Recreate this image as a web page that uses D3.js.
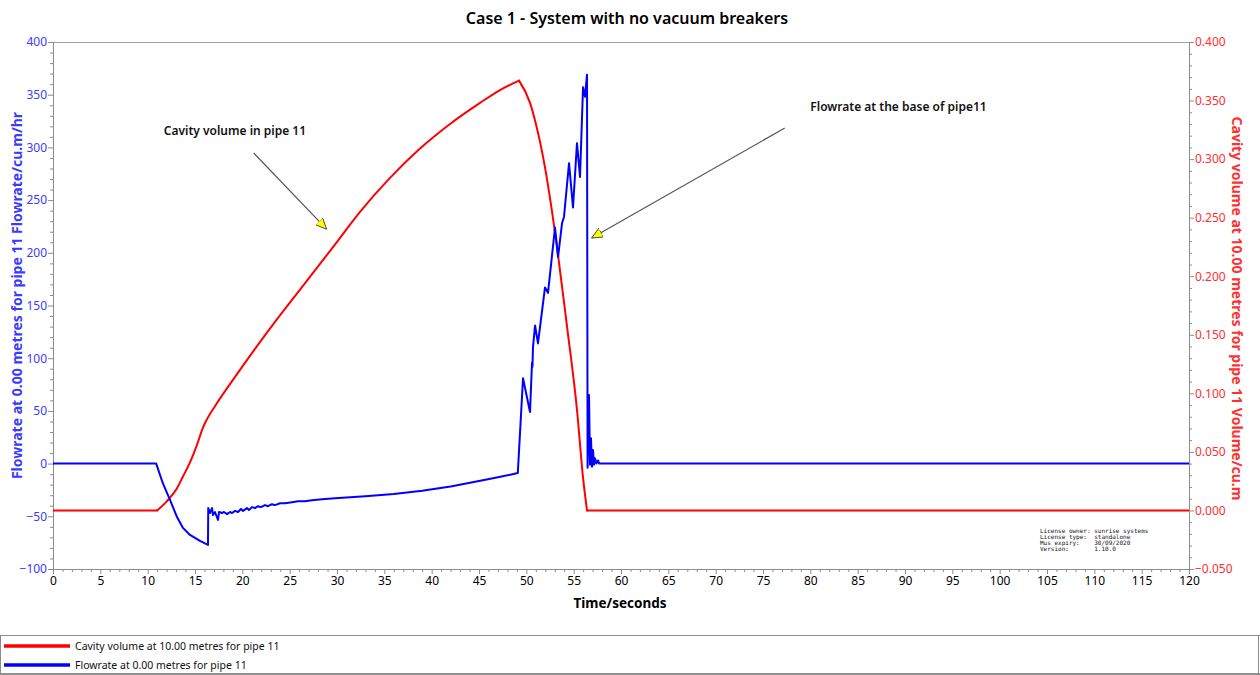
<!DOCTYPE html>
<html>
<head>
<meta charset="utf-8">
<script src="https://cdn.jsdelivr.net/npm/d3@7/dist/d3.min.js"></script>
<style>
  html, body { margin: 0; padding: 0; background: #fff; }
  svg { display: block; }
</style>
</head>
<body>
<svg id="chart" width="1260" height="675"></svg>
<script>
// ---------- data ----------
const chartTitle = "Case 1 - System with no vacuum breakers";
const xTickValues = d3.range(0, 121, 5);
const leftTickValues = d3.range(-100, 401, 50);
const rightTickValues = d3.range(-0.05, 0.4001, 0.05);

// Cavity volume at 10.00 metres for pipe 11 (time s, volume cu.m)
const cavityTime = [0, 11.0, 12.04, 13.10, 13.73, 14.47, 15.21, 15.85, 16.27, 17.11, 19.23, 21.34, 23.45, 25.56, 27.67, 29.78, 32.43, 35.60, 38.77, 41.94, 45.11, 47.22, 49.23, 50.39, 50.92, 51.97, 53.24, 54.30, 55.35, 55.99, 56.41, 120];
const cavityVolume = [0, 0, 0.008, 0.019, 0.029, 0.041, 0.056, 0.071, 0.078, 0.089, 0.114, 0.138, 0.161, 0.183, 0.205, 0.227, 0.255, 0.284, 0.309, 0.330, 0.348, 0.359, 0.367, 0.348, 0.333, 0.293, 0.225, 0.157, 0.086, 0.028, 0, 0];

// Flowrate at 0.00 metres for pipe 11 (time s, flow cu.m/hr)
const flowTime = [0, 10.9, 11.6, 12.36, 13.1, 13.73, 14.47, 15.53, 16.37, 16.4, 16.58, 16.80, 16.90, 17.11, 17.43, 17.54, 17.85, 18.06, 18.38, 18.70, 18.91, 19.23, 19.54, 19.86, 20.07, 20.49, 20.70, 21.02, 21.34, 21.65, 21.97, 22.39, 22.71, 23.13, 23.45, 23.98, 24.51, 25.25, 25.88, 26.62, 27.36, 28.42, 29.79, 33, 36, 39, 42, 45, 47, 49.1, 49.65, 50.39, 50.6, 50.65, 50.7, 50.92, 51.23, 51.97, 52.29, 53.03, 53.35, 53.77, 53.98, 54.51, 54.93, 55.35, 55.67, 55.99, 56.20, 56.41, 56.47, 56.62, 56.73, 56.83, 56.94, 57.04, 57.15, 57.25, 57.4, 57.57, 57.7, 120];
const flowRate = [0, 0, -18.6, -34.5, -50.7, -61, -67.7, -73.4, -77.2, -42.2, -46.9, -42.2, -48.8, -45.9, -53.5, -45.9, -46.9, -45.9, -47.9, -45.9, -46.9, -44.9, -45.9, -43.0, -44.9, -42.2, -44.0, -41.3, -42.2, -40.4, -41.3, -39.4, -40.4, -38.5, -39.4, -37.6, -37.6, -36.6, -35.7, -35.7, -34.7, -33.8, -32.8, -31, -28.8, -25.8, -21.8, -16.5, -13, -9, 81, 49, 96, 92, 110, 131, 114, 167, 162, 224, 196, 228, 234, 285, 243, 304, 272, 357, 348, 369, -4, 65, -1, 24, -3, 13, -1, 5, 0, 3, 0, 0];

// annotations (time s, flow cu.m/hr on left axis)
const annotationTexts = ["Cavity volume in pipe 11", "Flowrate at the base of pipe11"];
const annotationTextPos = [[11.7, 312], [80.0, 335]];
const annotationArrowFrom = [[21.2, 294.7], [77.3, 318.4]];
const annotationArrowTo = [[28.9, 222.4], [56.9, 214]];

const legendLabels = ["Cavity volume at 10.00 metres for pipe 11", "Flowrate at 0.00 metres for pipe 11"];
const licenseLines = ["License owner: sunrise systems", "License type:  standalone", "Mus expiry:    30/09/2020", "Version:       1.10.0"];

// ---------- layout ----------
const svg = d3.select("#chart");
const W = 1260, H = 675;
const plot = { left: 53, right: 1189, top: 42, bottom: 569 };
const BLUE = "#0000ff", RED = "#ff0000";
const BLUE_TXT = "#3b3bff", RED_TXT = "#ff3030";
const FONT = "'Noto Sans', 'Open Sans', sans-serif";

const x = d3.scaleLinear().domain([0, 120]).range([plot.left, plot.right]);
const yL = d3.scaleLinear().domain([-100, 400]).range([plot.bottom, plot.top]);
const yR = d3.scaleLinear().domain([-0.05, 0.4]).range([plot.bottom, plot.top]);

// title
svg.append("text").attr("x", 627).attr("y", 24).attr("text-anchor", "middle")
  .style("font-family", FONT).style("font-size", "16px").style("font-weight", 600)
  .attr("fill", "#000").text(chartTitle);

// plot frame (top border)
svg.append("line").attr("x1", plot.left).attr("x2", plot.right).attr("y1", plot.top + 0.5).attr("y2", plot.top + 0.5)
  .attr("stroke", "#a0a0a0").attr("stroke-width", 1);

// ---------- axes ----------
function styleAxis(g, color) {
  g.select(".domain").attr("stroke", "#8c8c8c");
  g.selectAll(".tick line").attr("stroke", "#8c8c8c");
  g.selectAll(".tick text").style("font-family", FONT).style("font-size", "12px").attr("fill", color);
}
const minorX = d3.range(0, 121, 1).filter(v => v % 5 !== 0);
const minorL = d3.range(-100, 401, 10).filter(v => v % 50 !== 0);
const minorR = d3.range(-50, 401, 10).filter(v => v % 50 !== 0).map(v => v / 1000);

svg.append("g").attr("transform", `translate(0,${plot.bottom})`)
  .call(d3.axisBottom(x).tickValues(minorX).tickSize(3).tickFormat(""))
  .call(g => { g.select(".domain").remove(); g.selectAll("line").attr("stroke", "#8c8c8c"); });
svg.append("g").attr("transform", `translate(${plot.left},0)`)
  .call(d3.axisLeft(yL).tickValues(minorL).tickSize(3).tickFormat(""))
  .call(g => { g.select(".domain").remove(); g.selectAll("line").attr("stroke", "#8c8c8c"); });
svg.append("g").attr("transform", `translate(${plot.right},0)`)
  .call(d3.axisRight(yR).tickValues(minorR).tickSize(3).tickFormat(""))
  .call(g => { g.select(".domain").remove(); g.selectAll("line").attr("stroke", "#8c8c8c"); });

svg.append("g").attr("transform", `translate(0,${plot.bottom})`)
  .call(d3.axisBottom(x).tickValues(xTickValues).tickSize(5).tickSizeOuter(0).tickPadding(2).tickFormat(d3.format("d")))
  .call(g => styleAxis(g, "#000"));
svg.append("g").attr("transform", `translate(${plot.left},0)`)
  .call(d3.axisLeft(yL).tickValues(leftTickValues).tickSize(5).tickSizeOuter(0).tickPadding(1).tickFormat(d3.format("d")))
  .call(g => styleAxis(g, BLUE_TXT));
svg.append("g").attr("transform", `translate(${plot.right},0)`)
  .call(d3.axisRight(yR).tickValues(rightTickValues).tickSize(5).tickSizeOuter(0).tickPadding(1).tickFormat(d3.format(".3f")))
  .call(g => styleAxis(g, RED_TXT));

// axis titles
svg.append("text").attr("transform", `translate(22,${(plot.top + plot.bottom) / 2 - 10}) rotate(-90)`)
  .attr("text-anchor", "middle").style("font-family", FONT).style("font-size", "14px").style("font-weight", 700)
  .attr("fill", BLUE_TXT).text("Flowrate at 0.00 metres for pipe 11 Flowrate/cu.m/hr");
svg.append("text").attr("transform", `translate(1232,${(plot.top + plot.bottom) / 2 + 3}) rotate(90)`)
  .attr("text-anchor", "middle").style("font-family", FONT).style("font-size", "14px").style("font-weight", 700)
  .attr("fill", RED_TXT).text("Cavity volume at 10.00 metres for pipe 11 Volume/cu.m");
svg.append("text").attr("x", 620).attr("y", 608).attr("text-anchor", "middle")
  .style("font-family", FONT).style("font-size", "13.5px").style("font-weight", 700)
  .attr("fill", "#000").text("Time/seconds");

// ---------- series ----------
const cavityData = cavityTime.map((t, i) => [t, cavityVolume[i]]);
const flowData = flowTime.map((t, i) => [t, flowRate[i]]);

svg.append("clipPath").attr("id", "clip").append("rect")
  .attr("x", plot.left).attr("y", plot.top).attr("width", plot.right - plot.left).attr("height", plot.bottom - plot.top);

// red: smooth between the corners (start of rise, peak, end of fall)
const iStart = cavityVolume.findIndex(v => v > 0) - 1;
const iPeak = d3.maxIndex(cavityVolume);
const iEnd = cavityVolume.findIndex((v, i) => i > iPeak && v === 0);
const redPieces = [
  { data: cavityData.slice(0, iStart + 1), curve: d3.curveLinear },
  { data: cavityData.slice(iStart, iPeak + 1), curve: d3.curveMonotoneX },
  { data: cavityData.slice(iPeak, iEnd + 1), curve: d3.curveMonotoneX },
  { data: cavityData.slice(iEnd), curve: d3.curveLinear }
];
redPieces.forEach(p => {
  svg.append("path").datum(p.data).attr("clip-path", "url(#clip)")
    .attr("d", d3.line().curve(p.curve).x(d => x(d[0])).y(d => yR(d[1])))
    .attr("fill", "none").attr("stroke", RED).attr("stroke-width", 2).attr("stroke-linejoin", "round").attr("stroke-linecap", "round");
});
svg.append("path").datum(flowData).attr("clip-path", "url(#clip)")
  .attr("d", d3.line().x(d => x(d[0])).y(d => yL(d[1])))
  .attr("fill", "none").attr("stroke", BLUE).attr("stroke-width", 2).attr("stroke-linejoin", "round");

// ---------- annotations ----------
const defs = svg.append("defs");
defs.append("marker").attr("id", "arrowhead").attr("viewBox", "0 0 12 10")
  .attr("refX", 11).attr("refY", 5).attr("markerWidth", 12).attr("markerHeight", 10)
  .attr("markerUnits", "userSpaceOnUse").attr("orient", "auto")
  .append("path").attr("d", "M0,0 L11,5 L0,10 Z").attr("fill", "#ffff00").attr("stroke", "#333").attr("stroke-width", 0.8);

annotationTexts.forEach((txt, i) => {
  svg.append("text").attr("x", x(annotationTextPos[i][0])).attr("y", yL(annotationTextPos[i][1]))
    .style("font-family", FONT).style("font-size", "12px").style("font-weight", 600)
    .attr("fill", "#111").text(txt);
  svg.append("line")
    .attr("x1", x(annotationArrowFrom[i][0])).attr("y1", yL(annotationArrowFrom[i][1]))
    .attr("x2", x(annotationArrowTo[i][0])).attr("y2", yL(annotationArrowTo[i][1]))
    .attr("stroke", "#555").attr("stroke-width", 1.2).attr("marker-end", "url(#arrowhead)");
});

// license block
const lic = svg.append("text").attr("x", 1040).attr("y", 533)
  .style("font-family", "'DejaVu Sans Mono', 'Liberation Mono', monospace").style("font-size", "6px")
  .attr("fill", "#111").attr("xml:space", "preserve");
licenseLines.forEach((l, i) => {
  lic.append("tspan").attr("x", 1040).attr("dy", i === 0 ? 0 : 6).style("white-space", "pre").text(l);
});

// ---------- legend ----------
svg.append("line").attr("x1", 0).attr("x2", W).attr("y1", 635.5).attr("y2", 635.5).attr("stroke", "#8c8c8c");
svg.append("line").attr("x1", 0).attr("x2", W).attr("y1", 674).attr("y2", 674).attr("stroke", "#222");
svg.append("line").attr("x1", 0.5).attr("x2", 0.5).attr("y1", 635).attr("y2", 675).attr("stroke", "#8c8c8c");
svg.append("line").attr("x1", W - 1.5).attr("x2", W - 1.5).attr("y1", 635).attr("y2", 675).attr("stroke", "#8c8c8c");
const legendColors = [RED, BLUE];
legendLabels.forEach((lab, i) => {
  const yy = 646 + i * 19;
  svg.append("line").attr("x1", 4).attr("x2", 70).attr("y1", yy).attr("y2", yy)
    .attr("stroke", legendColors[i]).attr("stroke-width", 3.5);
  svg.append("text").attr("x", 75).attr("y", yy + 4)
    .style("font-family", FONT).style("font-size", "10.5px").attr("fill", "#111").text(lab);
});
</script>
</body>
</html>
